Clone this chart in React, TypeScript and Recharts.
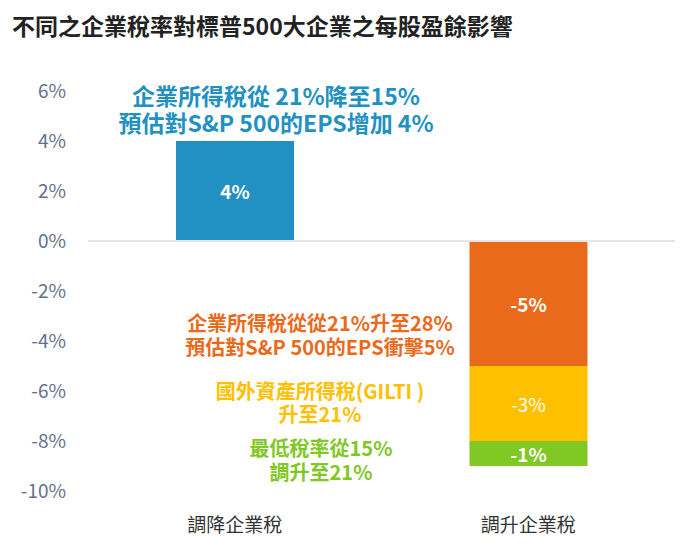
import { BarChart, Bar, XAxis, YAxis, ReferenceLine, LabelList } from 'recharts';

const categories = ['調降企業稅', '調升企業稅'];
const cutTax = [4, null];
const corpRaise = [null, -5];
const giltiRaise = [null, -3];
const minTaxRaise = [null, -1];
const yTicks = [-10, -8, -6, -4, -2, 0, 2, 4, 6];

const data = categories.map((name, i) => ({
  name,
  cut: cutTax[i],
  corp: corpRaise[i],
  gilti: giltiRaise[i],
  minTax: minTaxRaise[i],
}));

const BLUE = '#2191c4';
const ORANGE = '#ea6a1c';
const YELLOW = '#ffc000';
const GREEN = '#80c824';
const CJK = '"Noto Sans CJK TC", "Noto Sans", sans-serif';

const pct = (v: any) => (v == null || v === 0 ? '' : `${v}%`);

function ValueLabel(props: any) {
  const { x, y, width, height, value, bold } = props;
  if (value == null || value === 0) return null;
  return (
    <text
      x={x + width / 2}
      y={y + height / 2 + 3}
      fill="#fff"
      textAnchor="middle"
      dominantBaseline="middle"
      fontFamily={CJK}
      fontSize={19}
      fontWeight={bold ? 700 : 400}
    >
      {pct(value)}
    </text>
  );
}

// two-line note as one text node, broken with \n
const note = (color: string, cx: number, top: number, size: number, gap: number, text: string) => (
  <div
    style={{
      position: 'absolute', left: cx - 250, top, width: 500, textAlign: 'center',
      color, fontFamily: CJK, fontWeight: 700, fontSize: size,
      lineHeight: `${gap}px`, whiteSpace: 'pre-line',
    }}
  >
    {text}
  </div>
);

export default function App() {
  return (
    <div style={{ position: 'absolute', left: 0, top: 0, width: 695, height: 557, background: '#fff' }}>
      <div style={{
        position: 'absolute', left: 12, top: 8, fontFamily: CJK, fontWeight: 700,
        fontSize: 23, color: '#222', whiteSpace: 'nowrap',
      }}>
        不同之企業稅率對標普500大企業之每股盈餘影響
      </div>
      <BarChart
        width={695} height={557} data={data} stackOffset="sign"
        margin={{ top: 91, right: 20, left: 0, bottom: 0 }}
      >
        <XAxis
          dataKey="name" height={66} axisLine={false} tickLine={false} tickMargin={22}
          tick={{ fill: '#333', fontSize: 19, fontFamily: CJK }}
        />
        <YAxis
          width={88} domain={[-10, 6]} ticks={yTicks} tickFormatter={(v) => `${v}%`}
          axisLine={false} tickLine={false} tickMargin={16}
          tick={{ fill: '#66708a', fontSize: 19, fontFamily: CJK }}
        />
        <Bar dataKey="cut" stackId="a" fill={BLUE} barSize={118} isAnimationActive={false}>
          <LabelList dataKey="cut" content={(p: any) => <ValueLabel {...p} bold />} />
        </Bar>
        <Bar dataKey="corp" stackId="a" fill={ORANGE} barSize={118} isAnimationActive={false}>
          <LabelList dataKey="corp" content={(p: any) => <ValueLabel {...p} bold />} />
        </Bar>
        <Bar dataKey="gilti" stackId="a" fill={YELLOW} barSize={118} isAnimationActive={false}>
          <LabelList dataKey="gilti" content={(p: any) => <ValueLabel {...p} />} />
        </Bar>
        <Bar dataKey="minTax" stackId="a" fill={GREEN} barSize={118} isAnimationActive={false}>
          <LabelList dataKey="minTax" content={(p: any) => <ValueLabel {...p} bold />} />
        </Bar>
        <ReferenceLine y={0} stroke="#e6e6ea" strokeWidth={2} />
      </BarChart>
      {note(BLUE, 276, 81.5, 23, 27, '企業所得稅從 21%降至15%\n預估對S&P 500的EPS增加 4%')}
      {note(ORANGE, 320, 311, 20, 24, '企業所得稅從從21%升至28%\n預估對S&P 500的EPS衝擊5%')}
      {note(YELLOW, 320, 378.5, 20, 23, '國外資產所得稅(GILTI )\n升至21%')}
      {note(GREEN, 321, 436, 20, 24, '最低稅率從15%\n調升至21%')}
    </div>
  );
}
